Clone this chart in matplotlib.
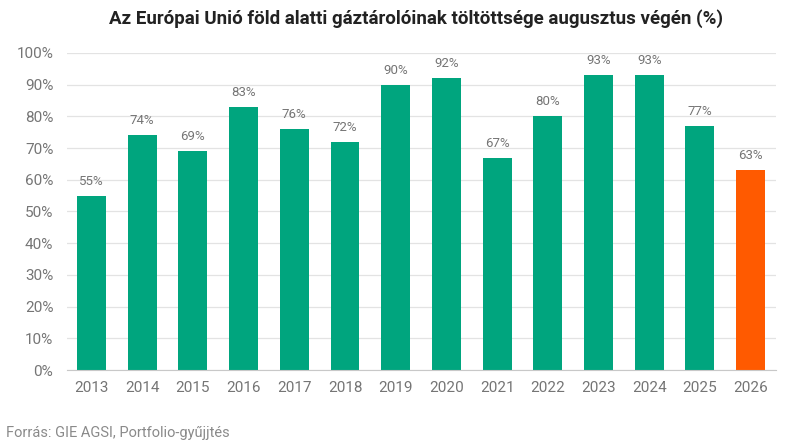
import matplotlib.pyplot as plt

plt.rcParams['font.family'] = ['Roboto', 'DejaVu Sans']

years = ["2013", "2014", "2015", "2016", "2017", "2018", "2019",
         "2020", "2021", "2022", "2023", "2024", "2025", "2026"]
fill_pct = [55, 74, 69, 83, 76, 72, 90, 92, 67, 80, 93, 93, 77, 63]
y_ticks = [0, 10, 20, 30, 40, 50, 60, 70, 80, 90, 100]

GREEN = "#00a57e"
ORANGE = "#ff5a00"
GREY_TEXT = "#757575"

fig = plt.figure(figsize=(8, 4.45), dpi=100)
ax = fig.add_axes([0.084, 0.1685, 0.886, 0.7125])

colors = [GREEN] * (len(years) - 1) + [ORANGE]
x = range(len(years))
bars = ax.bar(x, fill_pct, width=0.57, color=colors, zorder=3)

for rect, v in zip(bars, fill_pct):
    ax.text(rect.get_x() + rect.get_width() / 2, v + 2.5, f"{v}%",
            ha="center", va="bottom", fontsize=9.5, color=GREY_TEXT)

ax.set_xlim(-0.48, len(years) - 0.5)
ax.set_ylim(0, 100)
ax.set_yticks(y_ticks)
ax.set_yticklabels([f"{t}%" for t in y_ticks])
ax.set_xticks(list(x))
ax.set_xticklabels(years)
ax.tick_params(axis="both", length=0, labelsize=11, colors=GREY_TEXT)
ax.tick_params(axis="x", pad=8)
ax.tick_params(axis="y", pad=10)

ax.grid(axis="y", color="#e3e3e3", linewidth=0.9, zorder=0)
for side in ["top", "right", "left"]:
    ax.spines[side].set_visible(False)
ax.spines["bottom"].set_color("#c8c8c8")
ax.spines["bottom"].set_zorder(4)

fig.text(0.52, 0.958, "Az Európai Unió föld alatti gáztárolóinak töltöttsége augusztus végén (%)",
         ha="center", va="center", fontsize=13.5, fontweight="bold", color="#222222")
fig.text(0.008, 0.028, "Forrás: GIE AGSI, Portfolio-gyűjjtés",
         ha="left", va="center", fontsize=10.5, color="#8a8a8a")

fig.savefig("out.png", dpi=100)
